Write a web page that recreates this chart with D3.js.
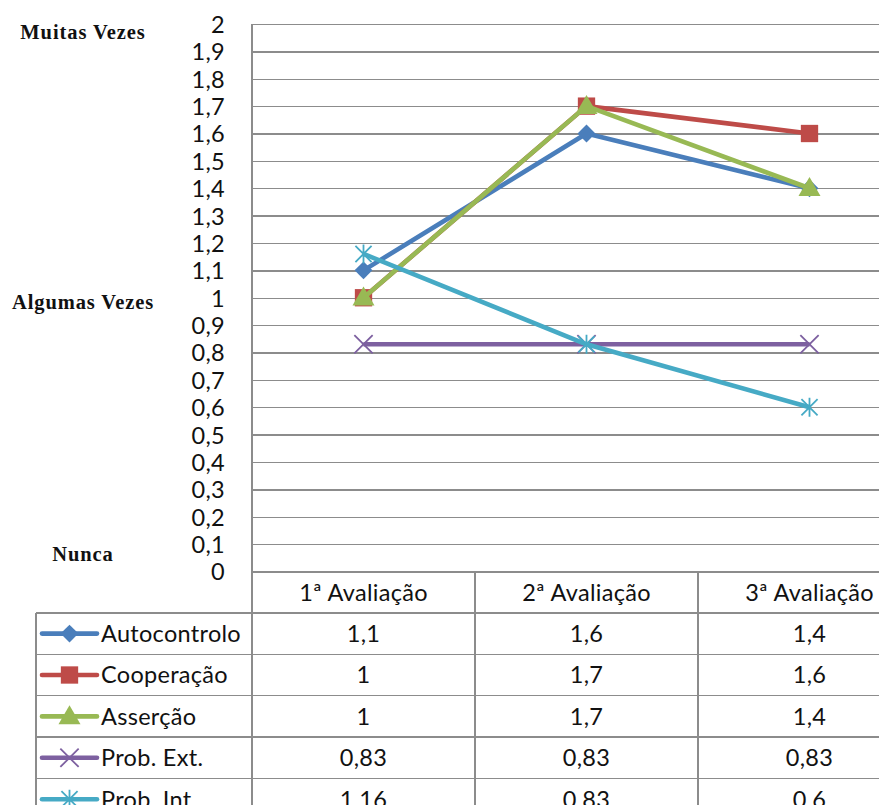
<!DOCTYPE html>
<html>
<head>
<meta charset="utf-8">
<script src="https://cdn.jsdelivr.net/npm/d3@7"></script>
<style>
  html, body { margin: 0; padding: 0; background: #fff; overflow: hidden; }
  svg { display: block; }
</style>
</head>
<body>
<svg id="chart" width="879" height="805"></svg>
<script>
// Avaliações e séries
const categories = ["1ª Avaliação", "2ª Avaliação", "3ª Avaliação"];
const seriesNames = ["Autocontrolo", "Cooperação", "Asserção", "Prob. Ext.", "Prob. Int."];
const autocontrolo = [1.1, 1.6, 1.4];
const cooperacao = [1, 1.7, 1.6];
const assercao = [1, 1.7, 1.4];
const probExt = [0.83, 0.83, 0.83];
const probInt = [1.16, 0.83, 0.6];
const yTickValues = [0, 0.1, 0.2, 0.3, 0.4, 0.5, 0.6, 0.7, 0.8, 0.9, 1, 1.1, 1.2, 1.3, 1.4, 1.5, 1.6, 1.7, 1.8, 1.9, 2];
const scaleLabels = [
  { text: "Muitas Vezes", value: 2 },
  { text: "Algumas Vezes", value: 1 },
  { text: "Nunca", value: 0 }
];

const seriesValues = [autocontrolo, cooperacao, assercao, probExt, probInt];
const colors = ["#4A7EBB", "#BE4B48", "#98B954", "#7D60A0", "#46AAC5"];
const markerTypes = ["diamond", "square", "triangle", "x", "star"];

const series = seriesNames.map((name, i) => ({
  name, values: seriesValues[i], color: colors[i], marker: markerTypes[i]
}));

const svg = d3.select("#chart");
const W = 879, H = 805;
const plotLeft = 252, bandW = 223;
const plotTop = 24, plotBottom = 571.5;
const rowH = 41.4;
const tableLeft = 36;
const gridColor = "#8c8c8c";
const font = "Lato, 'Open Sans', sans-serif";
const fontSize = 23.5;
const spacing = "0.3px";

const locale = d3.formatLocale({ decimal: ",", thousands: ".", grouping: [3], currency: ["€", ""] });
const fmt = v => locale.format("~g")(v);

const x = d3.scaleBand().domain(categories).range([plotLeft, plotLeft + bandW * categories.length]);
const y = d3.scaleLinear().domain([0, 2]).range([plotBottom, plotTop]);

// Linhas de grelha horizontais e rótulos do eixo Y
const yAxis = d3.axisLeft(y)
  .tickValues(yTickValues)
  .tickFormat(fmt)
  .tickSize(-(W - plotLeft))
  .tickPadding(27);

const gy = svg.append("g").attr("transform", `translate(${plotLeft},0)`).call(yAxis);
gy.select(".domain").remove();
gy.selectAll(".tick line").attr("stroke", gridColor).attr("stroke-width", 1.3).attr("shape-rendering", "crispEdges");
gy.selectAll(".tick text")
  .attr("fill", "#111")
  .style("font-family", font)
  .style("font-size", fontSize + "px")
  .style("letter-spacing", spacing)
  .attr("dy", "0.36em");

// Eixo vertical (prolonga-se pela tabela)
svg.append("line")
  .attr("x1", plotLeft).attr("x2", plotLeft)
  .attr("y1", plotTop).attr("y2", H)
  .attr("stroke", gridColor).attr("stroke-width", 1.3).attr("shape-rendering", "crispEdges");

// Rótulos qualitativos da escala
svg.append("g").selectAll("text")
  .data(scaleLabels)
  .join("text")
  .attr("x", 83)
  .attr("y", d => d.value === 2 ? 39 : (d.value === 1 ? 309 : 561))
  .attr("text-anchor", "middle")
  .style("font-family", "'Liberation Serif', 'Times New Roman', serif")
  .style("font-weight", "bold")
  .style("font-size", "20.5px")
  .style("letter-spacing", "0.9px")
  .attr("fill", "#111")
  .text(d => d.text);

// Tabela de dados
const table = svg.append("g");
const nRows = series.length;
const tableTop = plotBottom;
const rowTop = i => tableTop + rowH * (i + 1);

// linhas horizontais da tabela
table.selectAll("line.h")
  .data(d3.range(nRows + 1))
  .join("line")
  .attr("x1", tableLeft).attr("x2", W)
  .attr("y1", i => rowTop(i)).attr("y2", i => rowTop(i))
  .attr("stroke", gridColor).attr("stroke-width", 1.3).attr("shape-rendering", "crispEdges");

// margem esquerda da tabela
table.append("line")
  .attr("x1", tableLeft).attr("x2", tableLeft)
  .attr("y1", rowTop(0)).attr("y2", H)
  .attr("stroke", gridColor).attr("stroke-width", 1.3).attr("shape-rendering", "crispEdges");

// separadores de coluna
table.selectAll("line.v")
  .data(categories.slice(1))
  .join("line")
  .attr("x1", d => x(d)).attr("x2", d => x(d))
  .attr("y1", tableTop).attr("y2", H)
  .attr("stroke", gridColor).attr("stroke-width", 1.3).attr("shape-rendering", "crispEdges");

// cabeçalho de categorias
table.selectAll("text.cat")
  .data(categories)
  .join("text")
  .attr("x", d => x(d) + x.bandwidth() / 2)
  .attr("y", tableTop + rowH / 2)
  .attr("dy", "0.36em")
  .attr("text-anchor", "middle")
  .style("font-family", font)
  .style("font-size", fontSize + "px")
  .style("letter-spacing", spacing)
  .attr("fill", "#111")
  .text(d => d);

// Marcadores
function markerPath(type) {
  switch (type) {
    case "diamond": return d3.symbol(d3.symbolSquare, 160)();
    case "square": return d3.symbol(d3.symbolSquare, 300)();
    case "triangle": return d3.symbol(d3.symbolTriangle, 210)();
    case "x": return d3.symbol(d3.symbolX, 220)();
  }
}
function starPath() {
  // asterisco: X mais traço vertical
  const r = 9.5;
  const p = d3.path();
  p.moveTo(-r * 0.85, -r * 0.85); p.lineTo(r * 0.85, r * 0.85);
  p.moveTo(-r * 0.85, r * 0.85); p.lineTo(r * 0.85, -r * 0.85);
  p.moveTo(0, -r); p.lineTo(0, r);
  return p.toString();
}
function drawMarker(g, s) {
  if (s.marker === "star") {
    g.append("path").attr("d", starPath()).attr("fill", "none").attr("stroke", s.color).attr("stroke-width", 1.8);
    return;
  }
  const p = g.append("path").attr("d", markerPath(s.marker));
  if (s.marker === "diamond") p.attr("transform", "rotate(45)");
  if (s.marker === "triangle") p.attr("transform", "translate(0,1.5)");
  if (s.marker === "x") {
    p.attr("fill", "none").attr("stroke", s.color).attr("stroke-width", 1.8);
  } else {
    p.attr("fill", s.color).attr("stroke", "none");
  }
}

// linhas das séries
const line = d3.line()
  .x((d, i) => x(categories[i]) + x.bandwidth() / 2)
  .y(d => y(d));

const plot = svg.append("g");
series.forEach(s => {
  plot.append("path")
    .datum(s.values)
    .attr("fill", "none")
    .attr("stroke", s.color)
    .attr("stroke-width", 4.6)
    .attr("stroke-linejoin", "round")
    .attr("d", line);
  s.values.forEach((v, i) => {
    const g = plot.append("g")
      .attr("transform", `translate(${x(categories[i]) + x.bandwidth() / 2},${y(v)})`);
    drawMarker(g, s);
  });
});

// linhas da tabela: legenda + valores
series.forEach((s, r) => {
  const cy = rowTop(r) + rowH / 2;
  const row = table.append("g");
  row.append("line")
    .attr("x1", 42).attr("x2", 97)
    .attr("y1", cy).attr("y2", cy)
    .attr("stroke", s.color).attr("stroke-width", 4.6).attr("stroke-linecap", "round");
  const mg = row.append("g").attr("transform", `translate(69.5,${cy})`);
  drawMarker(mg, s);
  row.append("text")
    .attr("x", 101).attr("y", cy).attr("dy", "0.36em")
    .style("font-family", font).style("font-size", fontSize + "px")
    .style("letter-spacing", spacing)
    .attr("fill", "#111")
    .text(s.name);
  row.selectAll("text.val")
    .data(s.values)
    .join("text")
    .attr("x", (d, i) => x(categories[i]) + x.bandwidth() / 2)
    .attr("y", cy).attr("dy", "0.36em")
    .attr("text-anchor", "middle")
    .style("font-family", font).style("font-size", fontSize + "px")
    .style("letter-spacing", spacing)
    .attr("fill", "#111")
    .text(d => fmt(d));
});
</script>
</body>
</html>
